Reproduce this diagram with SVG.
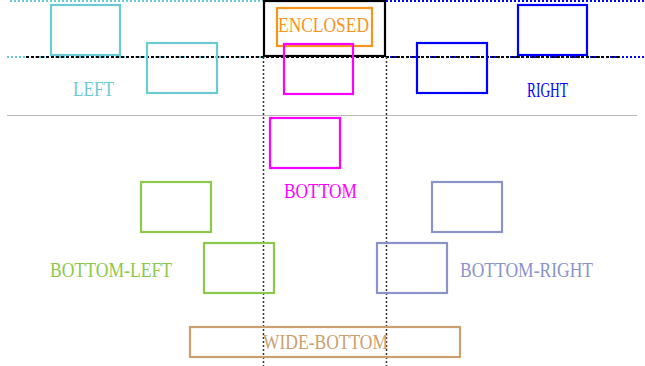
<svg xmlns="http://www.w3.org/2000/svg" width="645" height="366" viewBox="0 0 645 366">
<style>
.box{fill:none;stroke-width:2.2}
.lbl{font-family:"Liberation Serif","Times New Roman",serif;font-size:22px}
.cy{stroke:#6ccad4}.cyt{fill:#6ccad4}
.bl{stroke:#0000ff}.blt{fill:#0000ff}
.mg{stroke:#ff00ff}.mgt{fill:#ff00ff}
.gr{stroke:#8cc84b}.grt{fill:#8cc84b}
.pu{stroke:#8b93c9}.put{fill:#8b93c9}
.tn{stroke:#c9a06e}.tnt{fill:#c9a06e}
.or{stroke:#f7941e}.ort{fill:#f7941e}
</style>
<rect width="645" height="366" fill="#fff"/>
<g id="connectors" fill="none">
<line x1="7" y1="115.5" x2="637" y2="115.5" stroke="#bbb" stroke-width="1"/>
<line x1="10" y1="1" x2="263" y2="1" stroke="#6ccad4" stroke-width="2" stroke-dasharray="2,2"/>
<line x1="7" y1="57" x2="263" y2="57" stroke="#6ccad4" stroke-width="2" stroke-dasharray="2,2"/>
<line x1="386" y1="1" x2="645" y2="1" stroke="#0000ff" stroke-width="2" stroke-dasharray="2,2"/>
<line x1="386" y1="57" x2="645" y2="57" stroke="#0000ff" stroke-width="2" stroke-dasharray="2,2"/>
<line x1="26" y1="57" x2="620" y2="57" stroke="#000" stroke-width="2" stroke-dasharray="3,2"/>
<line x1="263.5" y1="57" x2="263.5" y2="366" stroke="#333" stroke-width="1.5" stroke-dasharray="2,2"/>
<line x1="386.5" y1="57" x2="386.5" y2="366" stroke="#333" stroke-width="1.5" stroke-dasharray="2,2"/>
</g>
<g id="enclosed">
<rect class="box" x="264" y="1" width="121" height="55" stroke="#000"/>
<rect class="box or" x="277" y="8" width="95" height="38"/>
<text class="lbl ort" x="278" y="32" textLength="91" lengthAdjust="spacingAndGlyphs">ENCLOSED</text>
</g>
<g id="left">
<rect class="box cy" x="51" y="5" width="69" height="50"/>
<rect class="box cy" x="147" y="43" width="70" height="50"/>
<text class="lbl cyt" x="73" y="96" textLength="41" lengthAdjust="spacingAndGlyphs">LEFT</text>
</g>
<g id="right">
<rect class="box bl" x="417" y="43" width="70" height="50"/>
<rect class="box bl" x="518" y="5" width="69" height="50"/>
<text class="lbl blt" x="527" y="97" textLength="41" lengthAdjust="spacingAndGlyphs">RIGHT</text>
</g>
<g id="bottom">
<rect class="box mg" x="284" y="44" width="69" height="50"/>
<rect class="box mg" x="270" y="118" width="70" height="50"/>
<text class="lbl mgt" x="284" y="198" textLength="73" lengthAdjust="spacingAndGlyphs">BOTTOM</text>
</g>
<g id="bottom-left">
<rect class="box gr" x="141" y="182" width="70" height="50"/>
<rect class="box gr" x="204" y="243" width="70" height="50"/>
<text class="lbl grt" x="50" y="277" textLength="122" lengthAdjust="spacingAndGlyphs">BOTTOM-LEFT</text>
</g>
<g id="bottom-right">
<rect class="box pu" x="432" y="182" width="70" height="50"/>
<rect class="box pu" x="377" y="243" width="70" height="50"/>
<text class="lbl put" x="460" y="277" textLength="133" lengthAdjust="spacingAndGlyphs">BOTTOM-RIGHT</text>
</g>
<g id="wide-bottom">
<rect class="box tn" x="190" y="327" width="270" height="30"/>
<text class="lbl tnt" x="263" y="349" textLength="125" lengthAdjust="spacingAndGlyphs">WIDE-BOTTOM</text>
</g>
</svg>
